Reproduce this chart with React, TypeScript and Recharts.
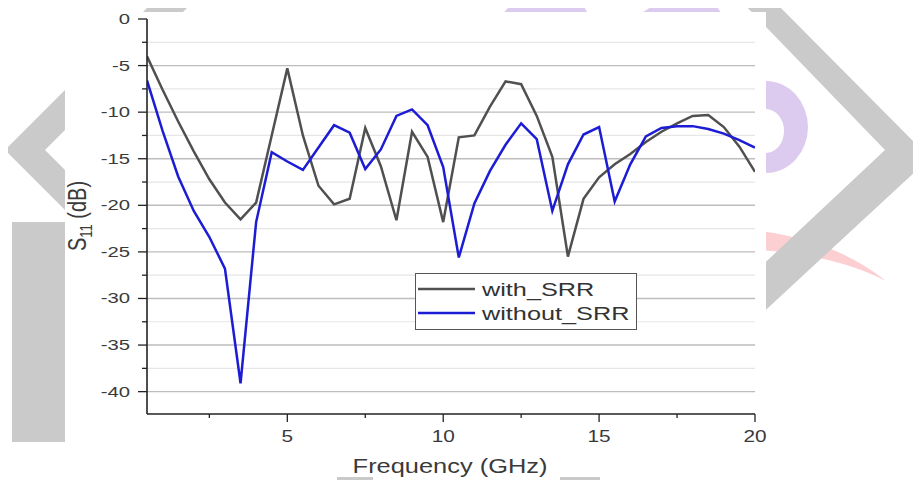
import React from 'react';
import { LineChart, Line, XAxis, YAxis, CartesianGrid, Legend, Label } from 'recharts';

const frequency = [0.5, 1, 1.5, 2, 2.5, 3, 3.5, 4, 4.5, 5, 5.5, 6, 6.5, 7, 7.5, 8, 8.5, 9, 9.5, 10, 10.5, 11, 11.5, 12, 12.5, 13, 13.5, 14, 14.5, 15, 15.5, 16, 16.5, 17, 17.5, 18, 18.5, 19, 19.5, 20];
const withSRR = [-4.0, -7.6, -11.0, -14.2, -17.2, -19.7, -21.5, -19.7, -12.5, -5.3, -12.5, -17.9, -19.9, -19.3, -11.7, -15.8, -21.6, -12.1, -14.8, -21.8, -12.7, -12.5, -9.4, -6.7, -7.0, -10.4, -14.8, -25.5, -19.3, -17.0, -15.6, -14.5, -13.2, -12.1, -11.2, -10.4, -10.3, -11.6, -13.7, -16.4];
const withoutSRR = [-6.6, -12.0, -16.9, -20.6, -23.4, -26.8, -39.1, -21.8, -14.3, -15.3, -16.2, -13.8, -11.4, -12.2, -16.1, -14.0, -10.4, -9.7, -11.4, -15.9, -25.6, -19.8, -16.3, -13.5, -11.2, -12.9, -20.6, -15.6, -12.4, -11.6, -19.6, -15.6, -12.6, -11.7, -11.5, -11.5, -11.8, -12.3, -13.0, -13.8];
const seriesNames = ['with_SRR', 'without_SRR'];
const seriesColors = ['#505050', '#1c1cd4'];
const xTicks = [2.5, 5, 7.5, 10, 12.5, 15, 17.5, 20];
const yTicks = [0, -2.5, -5, -7.5, -10, -12.5, -15, -17.5, -20, -22.5, -25, -27.5, -30, -32.5, -35, -37.5, -40];
const majorGridValues = [-5, -10, -15, -20, -25, -30, -35, -40];
const minorGridValues = [-2.5, -7.5, -12.5, -17.5, -22.5, -27.5, -32.5, -37.5];
const xAxisTitle = 'Frequency (GHz)';

const data = frequency.map((f, i) => ({
  f,
  [seriesNames[0]]: withSRR[i],
  [seriesNames[1]]: withoutSRR[i],
}));

const FONT = '"Liberation Sans", Arial, Helvetica, sans-serif';
const TEXT = '#3a3a3a';

const isMajor = (v: number) => Math.abs(v % 5) < 1e-6;

const YTick = (props: any) => {
  const { x, y, payload } = props;
  const v = payload.value;
  const major = isMajor(v);
  return (
    <g>
      <line x1={x - (major ? 9 : 5)} x2={x} y1={y} y2={y} stroke="#222" strokeWidth={1.3} />
      {major && (
        <text transform={`translate(${x - 17},${y + 5}) scale(1.45,1)`} textAnchor="end" fontSize={14} fill={TEXT} fontFamily={FONT}>
          {String(v)}
        </text>
      )}
    </g>
  );
};

const XTick = (props: any) => {
  const { x, y, payload } = props;
  const v = payload.value;
  const major = isMajor(v);
  return (
    <g>
      <line x1={x} x2={x} y1={y} y2={y + (major ? 8 : 4)} stroke="#222" strokeWidth={1.3} />
      {major && (
        <text transform={`translate(${x},${y + 28}) scale(1.3,1)`} textAnchor="middle" fontSize={16} fill={TEXT} fontFamily={FONT}>
          {String(v)}
        </text>
      )}
    </g>
  );
};

const LegendBox = (props: any) => {
  const payload = props.payload || [];
  return (
    <svg width={222} height={57} style={{ display: 'block' }}>
      <rect x={0.5} y={0.5} width={221} height={56} fill="#ffffff" stroke="#555" strokeWidth={1} />
      {payload.map((e: any, i: number) => (
        <g key={String(e.value)}>
          <line x1={3} x2={60} y1={16 + 24 * i} y2={16 + 24 * i} stroke={e.color} strokeWidth={2.5} />
          <text transform={`translate(67,${23 + 24 * i}) scale(1.33,1)`} fontSize={19} fill="#333" fontFamily={FONT}>
            {e.value}
          </text>
        </g>
      ))}
    </svg>
  );
};

const Background = () => (
  <svg width={921} height={480} style={{ position: 'absolute', left: 0, top: 0 }}>
    <rect x={0} y={0} width={921} height={480} fill="#ffffff" />
    {/* pink crescent */}
    <path d="M740,229 Q830,236 886,281 Q830,252 740,249 Z" fill="#fccfd2" />
    {/* purple shapes */}
    <path d="M766,81 A42,46 0 0 1 766,173 L766,153 A18,22 0 0 0 766,109 Z" fill="#dccbee" />
    <path d="M503,14 Q512,0 530,0 L570,0 Q582,0 588,14 Z" fill="#dccbee" />
    <path d="M640,14 L662,0 L712,0 L722,14 Z" fill="#dccbee" />
    {/* gray chevrons */}
    <polygon points="5,150 155,0 195,0 45,150 195,300 155,300" fill="#cacaca" />
    <rect x={12} y={222} width={53} height={220} fill="#cacaca" />
    <polygon points="740,0 773,0 930,158 757,318 706,318 885,150" fill="#cacaca" />
    <rect x={337} y={470} width={36} height={10} fill="#cacaca" />
    <rect x={560} y={470} width={40} height={10} fill="#cacaca" />
    {/* white image area */}
    <rect x={65} y={12} width={701} height={465} fill="#ffffff" />
  </svg>
);

export default function App() {
  return (
    <div style={{ position: 'relative', width: 921, height: 480, margin: '-8px 0 0 -8px', overflow: 'hidden' }}>
      <Background />
      <div style={{ position: 'absolute', left: 0, top: 0 }}>
        <LineChart width={921} height={480} data={data} margin={{ top: 19, right: 166, bottom: 0, left: 0 }}>
          <CartesianGrid vertical={false} horizontalValues={minorGridValues} stroke="#e6e6e6" strokeWidth={1.2} />
          <CartesianGrid vertical={false} horizontalValues={majorGridValues} stroke="#bdbdbd" strokeWidth={1.4} />
          <XAxis
            dataKey="f"
            type="number"
            domain={[0.5, 20]}
            ticks={xTicks}
            interval={0}
            allowDataOverflow
            height={66}
            tickSize={0}
            tickMargin={0}
            tickLine={false}
            tick={<XTick />}
            axisLine={{ stroke: '#222', strokeWidth: 1.6 }}
          >
            <Label
              content={() => (
                <text transform="translate(450,473) scale(1.27,1)" textAnchor="middle" fontSize={20} fill={TEXT} fontFamily={FONT}>
                  {xAxisTitle}
                </text>
              )}
            />
          </XAxis>
          <YAxis
            type="number"
            domain={[-42.4, 0]}
            ticks={yTicks}
            interval={0}
            allowDataOverflow
            width={147}
            tickSize={0}
            tickMargin={0}
            tickLine={false}
            tick={<YTick />}
            axisLine={{ stroke: '#222', strokeWidth: 1.6 }}
          >
            <Label
              content={() => (
                <text transform="translate(86,216) scale(1.25,1) rotate(-90)" textAnchor="middle" fontSize={20} fill={TEXT} fontFamily={FONT}>
                  S<tspan fontSize={13} dy={5}>11</tspan>
                  <tspan dy={-5}> (dB)</tspan>
                </text>
              )}
            />
          </YAxis>
          <Legend
            verticalAlign="middle"
            align="center"
            layout="horizontal"
            wrapperStyle={{ left: 415, top: 273, width: 222, height: 57 }}
            content={(p: any) => <LegendBox payload={p.payload} />}
          />
          <Line type="linear" dataKey={seriesNames[0]} name={seriesNames[0]} stroke={seriesColors[0]} strokeWidth={2.5} dot={false} isAnimationActive={false} />
          <Line type="linear" dataKey={seriesNames[1]} name={seriesNames[1]} stroke={seriesColors[1]} strokeWidth={2.5} dot={false} isAnimationActive={false} />
        </LineChart>
      </div>
    </div>
  );
}
